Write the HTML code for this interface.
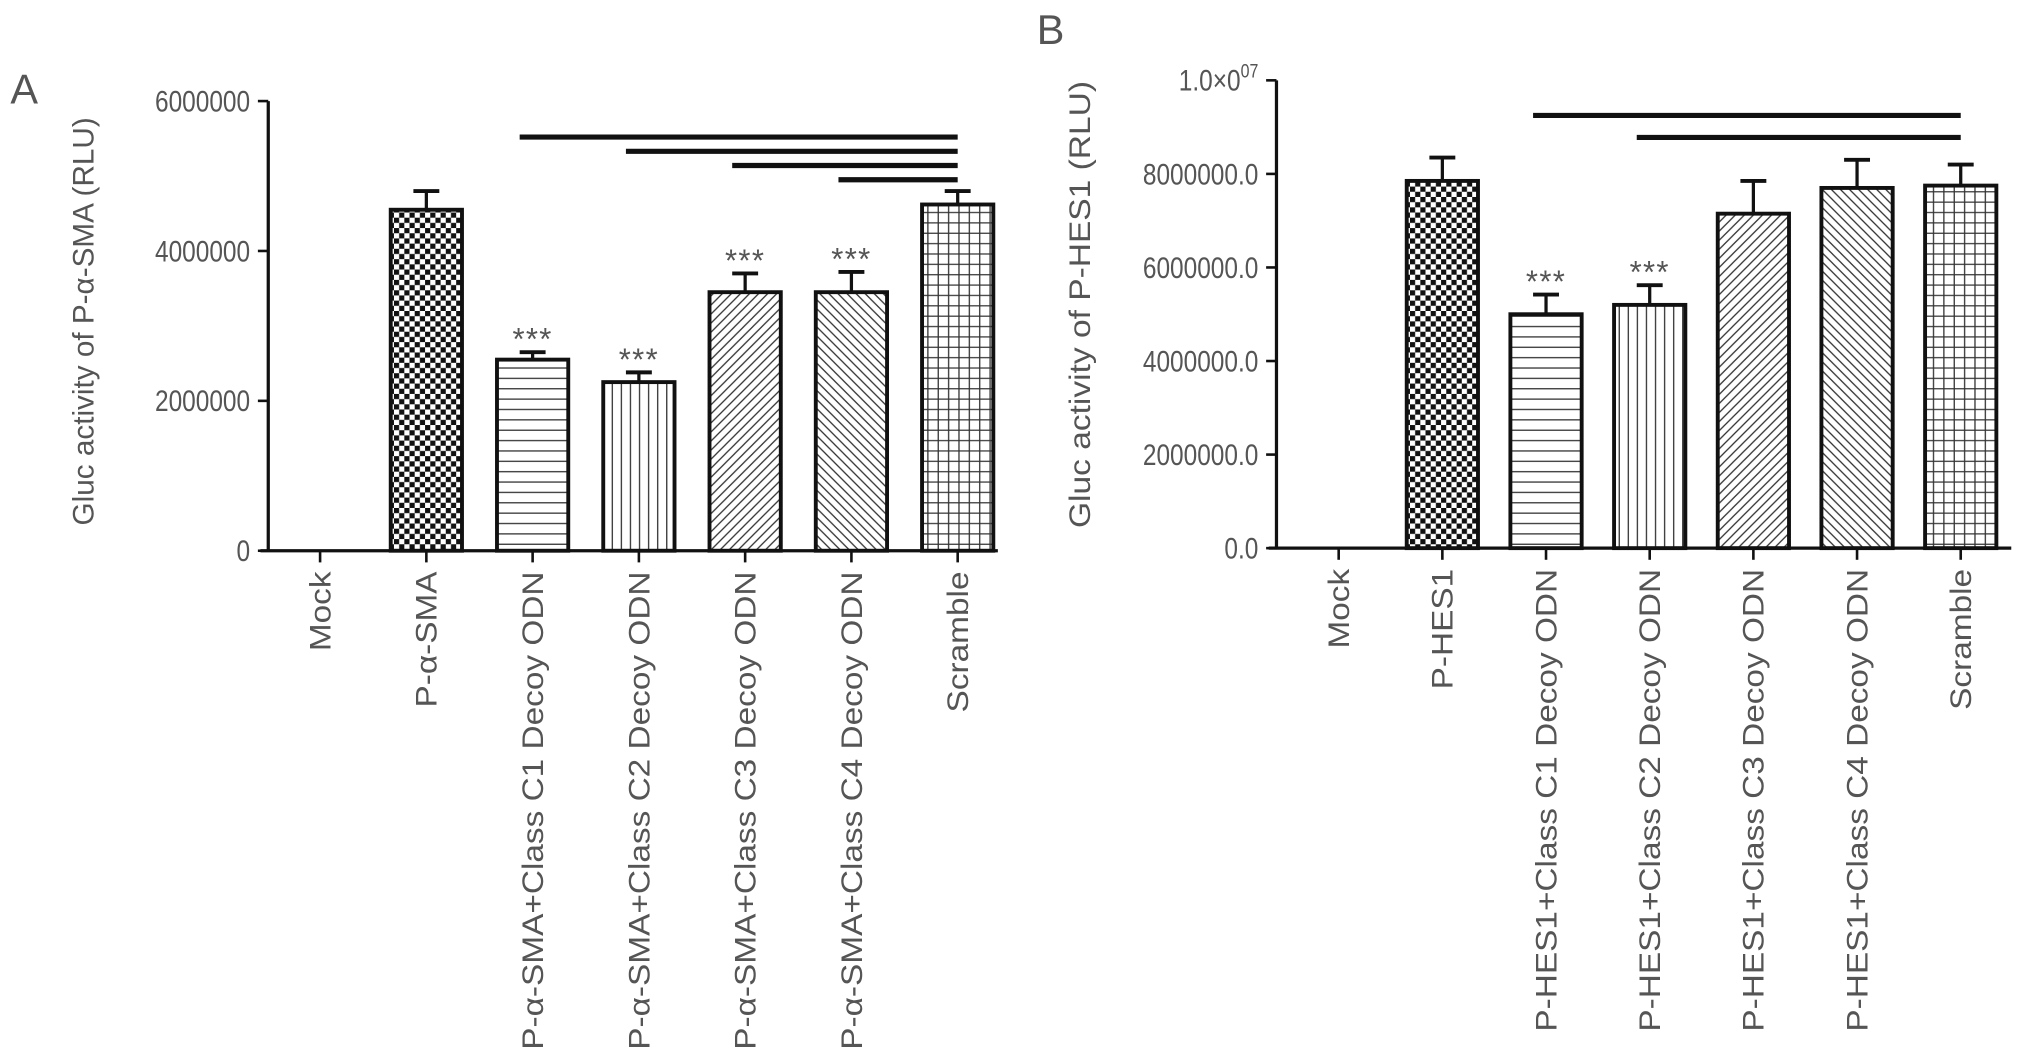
<!DOCTYPE html>
<html><head><meta charset="utf-8"><style>
html,body{margin:0;padding:0;background:#fff}
svg{display:block}
text{font-family:"Liberation Sans",sans-serif;fill:#555}
</style></head><body>
<svg id="fig" width="2032" height="1060" viewBox="0 0 1568 818" preserveAspectRatio="none" xmlns="http://www.w3.org/2000/svg">
<defs>
<pattern id="p-check" patternUnits="userSpaceOnUse" width="8" height="8"><rect width="8" height="8" fill="#fff"/><rect width="4" height="4" fill="#111"/><rect x="4" y="4" width="4" height="4" fill="#111"/></pattern>
<pattern id="p-hor" patternUnits="userSpaceOnUse" width="8" height="8"><rect width="8" height="8" fill="#fff"/><line x1="0" y1="4" x2="8" y2="4" stroke="#333" stroke-width="1"/></pattern>
<pattern id="p-ver" patternUnits="userSpaceOnUse" width="7" height="7"><rect width="7" height="7" fill="#fff"/><line x1="3.5" y1="0" x2="3.5" y2="7" stroke="#333" stroke-width="1"/></pattern>
<pattern id="p-fwd" patternUnits="userSpaceOnUse" width="7" height="7"><rect width="7" height="7" fill="#fff"/><path d="M-1,8 L8,-1 M-2,2 L2,-2 M5,9 L9,5" stroke="#333" stroke-width="1"/></pattern>
<pattern id="p-back" patternUnits="userSpaceOnUse" width="7" height="7"><rect width="7" height="7" fill="#fff"/><path d="M-1,-1 L8,8 M-2,5 L2,9 M5,-2 L9,2" stroke="#333" stroke-width="1"/></pattern>
<pattern id="p-grid" patternUnits="userSpaceOnUse" width="8" height="8"><rect width="8" height="8" fill="#fff"/><path d="M0,4 L8,4 M4,0 L4,8" stroke="#333" stroke-width="1"/></pattern>
</defs>
<g id="panelA"></g>
<g id="panelB"></g>
</svg>
<script>
const catsA = ["Mock","P-α-SMA","P-α-SMA+Class C1 Decoy ODN","P-α-SMA+Class C2 Decoy ODN","P-α-SMA+Class C3 Decoy ODN","P-α-SMA+Class C4 Decoy ODN","Scramble"];
const valsA = [0, 4550000, 2550000, 2250000, 3450000, 3450000, 4620000];
const errA = [0, 250000, 100000, 130000, 250000, 270000, 180000];
const starsA = [false,false,true,true,true,true,false];
const ticksA = [0, 2000000, 4000000, 6000000];
const tickLabA = ["0","2000000","4000000","6000000"];
const sigStartA = [2,3,4,5];
const sigLevelA = [5520000,5330000,5140000,4950000];

const catsB = ["Mock","P-HES1","P-HES1+Class C1 Decoy ODN","P-HES1+Class C2 Decoy ODN","P-HES1+Class C3 Decoy ODN","P-HES1+Class C4 Decoy ODN","Scramble"];
const valsB = [0, 7850000, 5000000, 5200000, 7150000, 7700000, 7750000];
const errB = [0, 500000, 420000, 420000, 700000, 600000, 450000];
const starsB = [false,false,true,true,false,false,false];
const ticksB = [0, 2000000, 4000000, 6000000, 8000000, 10000000];
const tickLabB = ["0.0","2000000.0","4000000.0","6000000.0","8000000.0","1.0×0"];
const sigStartB = [2,3];
const sigLevelB = [9250000,8780000];

const pats = ["","p-check","p-hor","p-ver","p-fwd","p-back","p-grid"];
const NS = "http://www.w3.org/2000/svg";
function mk(parent, tag, attrs, txt){
  const e = document.createElementNS(NS, tag);
  for (const k in attrs) e.setAttribute(k, attrs[k]);
  if (txt !== undefined) e.textContent = txt;
  parent.appendChild(e);
  return e;
}
function stretch(t, f){
  const L = t.getComputedTextLength();
  t.setAttribute('textLength', (L*f).toFixed(1));
  t.setAttribute('lengthAdjust','spacingAndGlyphs');
}
function draw(g, o){
  const y = v => o.y0 - (v / o.max) * (o.y0 - o.yTop);
  const x = i => o.x0 + i * o.step;
  const bw = 55;
  const ya = mk(g,"line",{x1:o.ax,y1:o.yTop,x2:o.ax,y2:o.y0,stroke:"#111","stroke-width":2.5});
  
  
  o.ticks.forEach((t,i)=>{
    const tk = mk(g,"line",{x1:o.ax-8,y1:y(t),x2:o.ax,y2:y(t),stroke:"#111","stroke-width":2});
    
    
    const lb = mk(g,"text",{x:o.ax-14,y:y(t)+8,"text-anchor":"end","font-size":23},o.tickLab[i]);
    
    
    if (o.sup && i===o.ticks.length-1){
      mk(lb,"tspan",{dy:-10,"font-size":15},"07");
    }
    stretch(lb, 0.82);
  });
  const xa = mk(g,"line",{x1:o.ax-6,y1:o.y0,x2:o.xEnd,y2:o.y0,stroke:"#111","stroke-width":2.5});
  
  
  o.cats.forEach((c,i)=>{
    const cx = x(i);
    const tk = mk(g,"line",{x1:cx,y1:o.y0,x2:cx,y2:o.y0+9,stroke:"#111","stroke-width":2});
    
    
    const lb = mk(g,"text",{x:0,y:0,"text-anchor":"end","font-size":23,transform:`translate(${cx+8},${o.y0+16}) rotate(-90)`},c);
    
    
    stretch(lb, 1.12);
    const v = o.vals[i];
    if (v > 0){
      const eTop = y(v + o.err[i]);
      const el = mk(g,"line",{x1:cx,y1:y(v),x2:cx,y2:eTop,stroke:"#111","stroke-width":2.5});
      
      
      const ec = mk(g,"line",{x1:cx-10,y1:eTop,x2:cx+10,y2:eTop,stroke:"#111","stroke-width":3});
      
      
      const r = mk(g,"rect",{x:cx-bw/2,y:y(v),width:bw,height:o.y0-y(v),fill:`url(#${pats[i]})`,stroke:"#111","stroke-width":3});
      
      
      if (o.stars[i]){
        const st = mk(g,"text",{x:cx,y:eTop-2,"text-anchor":"middle","font-size":24,fill:"#444","letter-spacing":"1"},"***");
        
        
      }
    }
  });
  o.sigStart.forEach((s,i)=>{
    const l = mk(g,"line",{x1:x(s)-10,y1:y(o.sigLevel[i]),x2:x(o.cats.length-1),y2:y(o.sigLevel[i]),stroke:"#111","stroke-width":4});
    
    
  });
  const t = mk(g,"text",{x:0,y:0,"text-anchor":"middle","font-size":23,transform:`translate(${o.titleX},${o.titleY}) rotate(-90)`,textLength:o.titleLen,lengthAdjust:"spacingAndGlyphs"},o.title);
  
  
  const pl = mk(g,"text",{x:o.letterX,y:o.letterY,"font-size":32,fill:"#222"},o.letter);
  
  
}
draw(document.getElementById('panelA'),{cats:catsA,vals:valsA,err:errA,stars:starsA,ticks:ticksA,tickLab:tickLabA,sigStart:sigStartA,sigLevel:sigLevelA,
  max:6000000,y0:425,yTop:78,ax:207,x0:247,step:82,xEnd:770,titleX:72,titleY:248,titleLen:315,title:"Gluc activity of P-α-SMA (RLU)",letter:"A",letterX:8,letterY:80});
draw(document.getElementById('panelB'),{cats:catsB,vals:valsB,err:errB,stars:starsB,ticks:ticksB,tickLab:tickLabB,sigStart:sigStartB,sigLevel:sigLevelB,sup:true,
  max:10000000,y0:423,yTop:62,ax:985,x0:1033,step:80,xEnd:1552,titleX:841,titleY:235,titleLen:345,title:"Gluc activity of P-HES1 (RLU)",letter:"B",letterX:800,letterY:34});
</script>
</body></html>
